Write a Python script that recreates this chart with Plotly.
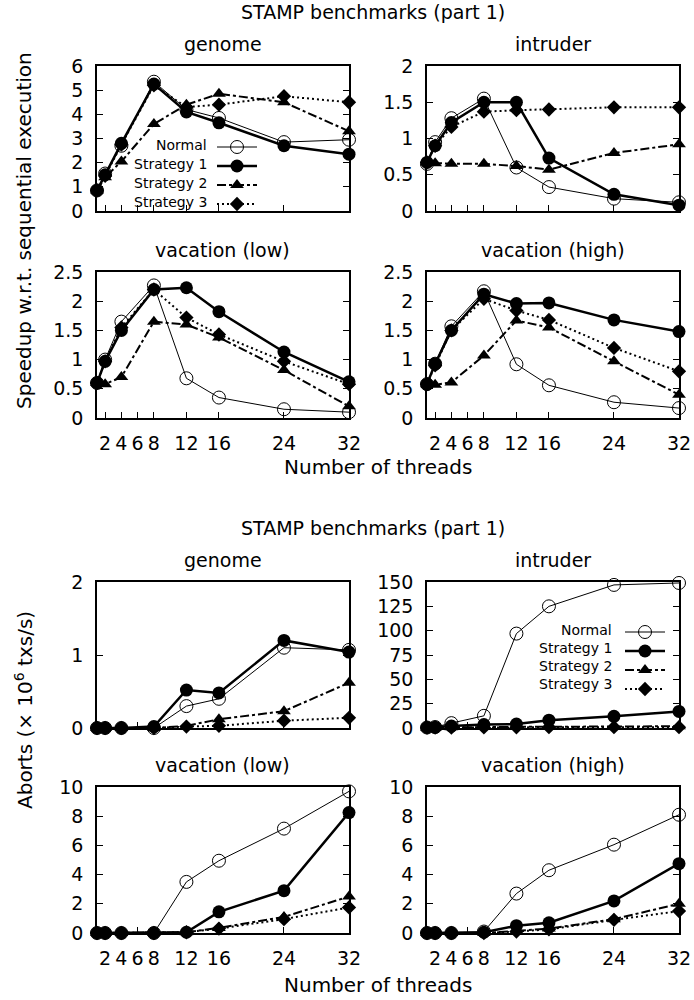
import plotly.graph_objects as go

# ---------------- data ----------------
threads = [1, 2, 4, 8, 12, 16, 24, 32]
tick_vals = [2, 4, 6, 8, 12, 16, 24, 32]
series_names = ["Normal", "Strategy 1", "Strategy 2", "Strategy 3"]

# Speedup w.r.t. sequential execution
genome_speed_normal = [0.85, 1.55, 2.7, 5.35, 4.2, 3.85, 2.85, 2.95]
genome_speed_s1 = [0.85, 1.5, 2.8, 5.25, 4.1, 3.65, 2.7, 2.35]
genome_speed_s2 = [0.85, 1.4, 2.05, 3.6, 4.4, 4.85, 4.5, 3.3]
genome_speed_s3 = [0.85, 1.45, 2.75, 5.2, 4.3, 4.4, 4.75, 4.5]

intruder_speed_normal = [0.65, 0.95, 1.28, 1.55, 0.6, 0.33, 0.17, 0.12]
intruder_speed_s1 = [0.67, 0.9, 1.22, 1.5, 1.5, 0.73, 0.23, 0.08]
intruder_speed_s2 = [0.67, 0.66, 0.65, 0.65, 0.62, 0.57, 0.8, 0.92]
intruder_speed_s3 = [0.67, 0.9, 1.16, 1.37, 1.39, 1.4, 1.43, 1.43]

vlow_speed_normal = [0.6, 1.0, 1.65, 2.27, 0.68, 0.35, 0.15, 0.1]
vlow_speed_s1 = [0.6, 0.97, 1.5, 2.2, 2.23, 1.82, 1.13, 0.62]
vlow_speed_s2 = [0.6, 0.58, 0.7, 1.65, 1.6, 1.38, 0.82, 0.2]
vlow_speed_s3 = [0.6, 0.97, 1.55, 2.2, 1.72, 1.43, 0.97, 0.58]

vhigh_speed_normal = [0.58, 0.93, 1.57, 2.17, 0.92, 0.56, 0.27, 0.17]
vhigh_speed_s1 = [0.58, 0.93, 1.5, 2.12, 1.96, 1.97, 1.68, 1.48]
vhigh_speed_s2 = [0.58, 0.57, 0.61, 1.07, 1.67, 1.55, 0.97, 0.4]
vhigh_speed_s3 = [0.58, 0.9, 1.5, 2.04, 1.84, 1.68, 1.2, 0.8]

# Aborts (x 10^6 txs/s)
genome_abort_normal = [0, 0, 0, 0, 0.3, 0.4, 1.1, 1.07]
genome_abort_s1 = [0, 0, 0, 0.02, 0.52, 0.48, 1.2, 1.04]
genome_abort_s2 = [0, 0, 0, 0, 0.03, 0.12, 0.23, 0.62]
genome_abort_s3 = [0, 0, 0, 0, 0.02, 0.03, 0.1, 0.14]

intruder_abort_normal = [0.5, 1, 5, 12.5, 97, 125, 147, 149]
intruder_abort_s1 = [0.5, 0.8, 2, 3.5, 4, 8, 12, 17]
intruder_abort_s2 = [0.3, 0.5, 0.8, 1, 1.2, 1.5, 1.5, 1.8]
intruder_abort_s3 = [0.3, 0.5, 0.5, 0.6, 0.7, 0.8, 0.8, 0.8]

vlow_abort_normal = [0, 0, 0, 0, 3.5, 4.95, 7.15, 9.7]
vlow_abort_s1 = [0, 0, 0, 0, 0.05, 1.45, 2.9, 8.25]
vlow_abort_s2 = [0, 0, 0, 0, 0.05, 0.35, 1.1, 2.5]
vlow_abort_s3 = [0, 0, 0, 0, 0.05, 0.3, 0.95, 1.75]

vhigh_abort_normal = [0, 0, 0, 0.1, 2.7, 4.3, 6.05, 8.1]
vhigh_abort_s1 = [0, 0, 0, 0.05, 0.5, 0.7, 2.2, 4.75]
vhigh_abort_s2 = [0, 0, 0, 0, 0.15, 0.3, 0.95, 2.0]
vhigh_abort_s3 = [0, 0, 0, 0, 0.1, 0.25, 0.9, 1.5]

# ---------------- layout helpers ----------------
W, H = 694, 1000
FONT = "DejaVu Sans"


def fx(p):
    return p / W


def fy(p):
    return 1 - p / H


col_px = [(97, 349), (427, 679)]
row_px = [(66, 211), (272, 418), (582, 728), (787, 933)]

panels = [
    dict(title="genome", row=0, col=0, yr=[0, 6], dt=1, labels=False,
         series=[genome_speed_normal, genome_speed_s1, genome_speed_s2, genome_speed_s3], legend="legend"),
    dict(title="intruder", row=0, col=1, yr=[0, 2], dt=0.5, labels=False,
         series=[intruder_speed_normal, intruder_speed_s1, intruder_speed_s2, intruder_speed_s3]),
    dict(title="vacation (low)", row=1, col=0, yr=[0, 2.5], dt=0.5, labels=True,
         series=[vlow_speed_normal, vlow_speed_s1, vlow_speed_s2, vlow_speed_s3]),
    dict(title="vacation (high)", row=1, col=1, yr=[0, 2.5], dt=0.5, labels=True,
         series=[vhigh_speed_normal, vhigh_speed_s1, vhigh_speed_s2, vhigh_speed_s3]),
    dict(title="genome", row=2, col=0, yr=[0, 2], dt=1, labels=False,
         series=[genome_abort_normal, genome_abort_s1, genome_abort_s2, genome_abort_s3]),
    dict(title="intruder", row=2, col=1, yr=[0, 150], dt=25, labels=False,
         series=[intruder_abort_normal, intruder_abort_s1, intruder_abort_s2, intruder_abort_s3], legend="legend2"),
    dict(title="vacation (low)", row=3, col=0, yr=[0, 10], dt=2, labels=True,
         series=[vlow_abort_normal, vlow_abort_s1, vlow_abort_s2, vlow_abort_s3]),
    dict(title="vacation (high)", row=3, col=1, yr=[0, 10], dt=2, labels=True,
         series=[vhigh_abort_normal, vhigh_abort_s1, vhigh_abort_s2, vhigh_abort_s3]),
]

styles = [
    dict(line=dict(color="black", width=1),
         marker=dict(symbol="circle-open", size=13, color="black", line=dict(width=1, color="black"))),
    dict(line=dict(color="black", width=2.5),
         marker=dict(symbol="circle", size=13, color="black")),
    dict(line=dict(color="black", width=2, dash="dashdot"),
         marker=dict(symbol="triangle-up", size=12, color="black")),
    dict(line=dict(color="black", width=2, dash="2px,3px"),
         marker=dict(symbol="diamond", size=11, color="black")),
]

fig = go.Figure()
layout = dict(
    width=W, height=H, margin=dict(l=0, r=0, t=0, b=0, autoexpand=False),
    paper_bgcolor="white", plot_bgcolor="white",
    font=dict(family=FONT, size=19, color="black"),
    showlegend=True,
)
annotations = []

for i, p in enumerate(panels):
    n = i + 1
    xa = "x" if n == 1 else f"x{n}"
    ya = "y" if n == 1 else f"y{n}"
    xl, xr = col_px[p["col"]]
    yt, yb = row_px[p["row"]]
    layout["xaxis" if n == 1 else f"xaxis{n}"] = dict(
        domain=[fx(xl), fx(xr)], anchor=ya, range=[1, 32],
        tickmode="array", tickvals=tick_vals,
        ticktext=[str(v) for v in tick_vals], showticklabels=p["labels"],
        ticks="inside", ticklen=6, tickwidth=1, tickcolor="black",
        showline=True, linecolor="black", linewidth=1.5, mirror=True,
        showgrid=False, zeroline=False, ticklabelstandoff=7,
        tickfont=dict(family=FONT, size=19),
    )
    layout["yaxis" if n == 1 else f"yaxis{n}"] = dict(
        domain=[fy(yb), fy(yt)], anchor=xa, range=p["yr"], dtick=p["dt"], tick0=0,
        ticks="inside", ticklen=6, tickwidth=1, tickcolor="black",
        showline=True, linecolor="black", linewidth=1.5, mirror="ticks",
        showgrid=False, zeroline=False, ticklabelstandoff=8,
        tickfont=dict(family=FONT, size=19),
    )
    for k, (vals, name) in enumerate(zip(p["series"], series_names)):
        st = styles[k]
        tr = dict(
            x=threads, y=vals, name=name, mode="lines+markers",
            xaxis=xa, yaxis=ya, line=st["line"], marker=st["marker"],
            cliponaxis=False, showlegend=False,
        )
        if p.get("legend"):
            tr["showlegend"] = True
            tr["legend"] = p["legend"]
        fig.add_trace(go.Scatter(**tr))
    annotations.append(dict(
        text=p["title"], x=fx((xl + xr) / 2), y=fy(yt), xref="paper", yref="paper",
        xanchor="center", yanchor="middle", yshift=22, showarrow=False,
        font=dict(family=FONT, size=19),
    ))

# section titles, axis titles
for yc in (12, 528):
    annotations.append(dict(text="STAMP benchmarks (part 1)", x=fx(373), y=fy(yc),
                            xref="paper", yref="paper", xanchor="center", yanchor="middle",
                            showarrow=False, font=dict(family=FONT, size=19)))
for yc in (467, 985):
    annotations.append(dict(text="Number of threads", x=fx(378), y=fy(yc),
                            xref="paper", yref="paper", xanchor="center", yanchor="middle",
                            showarrow=False, font=dict(family=FONT, size=20)))
annotations.append(dict(text="Speedup w.r.t. sequential execution", x=fx(24), y=fy(231),
                        xref="paper", yref="paper", xanchor="center", yanchor="middle",
                        textangle=-90, showarrow=False, font=dict(family=FONT, size=20)))
annotations.append(dict(text="Aborts (× 10<sup>6</sup> txs/s)", x=fx(24), y=fy(710),
                        xref="paper", yref="paper", xanchor="center", yanchor="middle",
                        textangle=-90, showarrow=False, font=dict(family=FONT, size=20)))

# legend labels (text left of the key, as in the original)
leg_cfg = [("legend", 209, 212, [145, 164, 183, 202]),
           ("legend2", 614, 620, [630, 648, 666, 684])]
for lname, text_right, key_left, rows in leg_cfg:
    layout[lname] = dict(
        x=fx(key_left), xanchor="left", y=fy(rows[0] - 12.5), yanchor="top",
        font=dict(family=FONT, size=1, color="rgba(0,0,0,0)"),
        bgcolor="rgba(0,0,0,0)", borderwidth=0, itemwidth=40, tracegroupgap=0,
        itemclick=False, itemdoubleclick=False,
    )
    for name, yc in zip(series_names, rows):
        annotations.append(dict(text=name, x=fx(text_right), y=fy(yc), xref="paper", yref="paper",
                                xanchor="right", yanchor="middle", showarrow=False,
                                font=dict(family=FONT, size=14)))

layout["annotations"] = annotations
fig.update_layout(**layout)

fig.write_html("out.html", config={"displayModeBar": False},
               post_script="document.body.style.margin='0';")
